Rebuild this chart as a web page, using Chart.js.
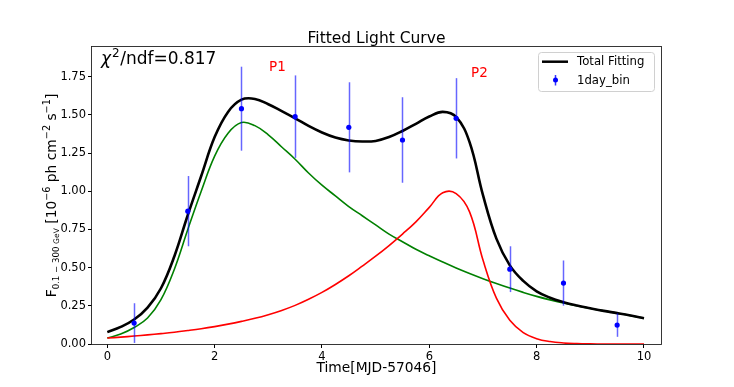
<!DOCTYPE html>
<html>
<head>
<meta charset="utf-8">
<script src="https://cdn.jsdelivr.net/npm/chart.js@4.4.1/dist/chart.umd.min.js"></script>
<style>
  body { margin: 0; background: #fff; }
  canvas { display: block; }
</style>
</head>
<body>
<canvas id="lc" width="734" height="387"></canvas>
<script>
// measured points, 1 day bins
var binX = [0.5, 1.5, 2.5, 3.5, 4.5, 5.5, 6.5, 7.5, 8.5, 9.5];
var binFlux = [0.137, 0.870, 1.541, 1.489, 1.419, 1.336, 1.478, 0.490, 0.399, 0.124];
var binErr = [0.13, 0.23, 0.275, 0.27, 0.295, 0.28, 0.263, 0.15, 0.148, 0.077];

// fitted curves every 0.25 day
var fitX = [0, 0.25, 0.5, 0.75, 1, 1.25, 1.5, 1.75, 2, 2.25, 2.5, 2.75, 3, 3.25, 3.5, 3.75, 4, 4.25, 4.5, 4.75,
            5, 5.25, 5.5, 5.75, 6, 6.25, 6.5, 6.75, 7, 7.25, 7.5, 7.75, 8, 8.25, 8.5, 8.75, 9, 9.25, 9.5, 9.75, 10];
var totalFit = [0.078, 0.112, 0.16, 0.238, 0.365, 0.575, 0.845, 1.10, 1.355, 1.52, 1.60, 1.605, 1.57, 1.525, 1.478, 1.428, 1.385, 1.352, 1.333, 1.326,
                1.33, 1.355, 1.395, 1.442, 1.49, 1.52, 1.487, 1.322, 0.975, 0.69, 0.515, 0.413, 0.345, 0.303, 0.274, 0.252, 0.234, 0.217, 0.202, 0.186, 0.168];
var p1Fit = [0.039, 0.065, 0.108, 0.17, 0.29, 0.49, 0.75, 1.00, 1.23, 1.38, 1.45, 1.43, 1.37, 1.29, 1.21, 1.12, 1.04, 0.97, 0.90, 0.84,
             0.78, 0.72, 0.67, 0.62, 0.578, 0.537, 0.498, 0.462, 0.428, 0.396, 0.366, 0.338, 0.312, 0.289, 0.268, 0.25, 0.233, 0.217, 0.202, 0.186, 0.168];
var p2Fit = [0.039, 0.045, 0.052, 0.06, 0.068, 0.077, 0.088, 0.10, 0.114, 0.13, 0.148, 0.168, 0.192, 0.22, 0.253, 0.293, 0.338, 0.39, 0.447, 0.51,
             0.575, 0.645, 0.72, 0.80, 0.895, 0.99, 0.985, 0.865, 0.55, 0.30, 0.155, 0.075, 0.035, 0.016, 0.007, 0.003, 0.001, 0, 0, 0, 0];

var xTicks = [0, 2, 4, 6, 8, 10];
var yTicks = [0, 0.25, 0.5, 0.75, 1.0, 1.25, 1.5, 1.75];

var FONT = '"DejaVu Sans", sans-serif';

function pts(xs, ys) {
    return xs.map(function (x, i) { return {x: x, y: ys[i]}; });
}

// draws a run of text pieces with different sizes / baseline shifts
function richText(ctx, parts, x, y) {
    var total = 0;
    parts.forEach(function (p) {
        ctx.font = p.style + p.size + 'px ' + FONT;
        p.w = ctx.measureText(p.t).width;
        total += p.w;
    });
    var cx = x - total / 2;
    parts.forEach(function (p) {
        ctx.font = p.style + p.size + 'px ' + FONT;
        ctx.fillText(p.t, cx, y + p.dy);
        cx += p.w;
    });
}

function part(t, size, dy, style) {
    return {t: t, size: size, dy: dy || 0, style: style || ''};
}

var errorBars = {
    id: 'errorBars',
    beforeDatasetDraw: function (chart, args) {
        if (args.index !== 0) return;
        var ctx = chart.ctx, xs = chart.scales.x, ys = chart.scales.y, a = chart.chartArea;
        ctx.save();
        ctx.beginPath();
        ctx.rect(a.left, a.top, a.right - a.left, a.bottom - a.top);
        ctx.clip();
        ctx.strokeStyle = 'rgba(0,0,255,0.6)';
        ctx.lineWidth = 1.5;
        for (var i = 0; i < binX.length; i++) {
            var px = Math.round(xs.getPixelForValue(binX[i])) + 0.5;
            ctx.beginPath();
            ctx.moveTo(px, ys.getPixelForValue(binFlux[i] - binErr[i]));
            ctx.lineTo(px, ys.getPixelForValue(binFlux[i] + binErr[i]));
            ctx.stroke();
        }
        ctx.restore();
    }
};

var decorations = {
    id: 'decorations',
    afterDraw: function (chart) {
        var ctx = chart.ctx, a = chart.chartArea;
        ctx.save();
        // frame
        ctx.strokeStyle = '#222';
        ctx.lineWidth = 0.9;
        ctx.strokeRect(a.left - 0.5, a.top - 0.5, a.right - a.left + 1, a.bottom - a.top + 1);

        ctx.fillStyle = '#000';
        ctx.textBaseline = 'alphabetic';
        // title
        ctx.textAlign = 'center';
        ctx.font = '15.5px ' + FONT;
        ctx.fillText('Fitted Light Curve', (a.left + a.right) / 2, 43);
        // x label
        ctx.font = '13.8px ' + FONT;
        ctx.fillText('Time[MJD-57046]', (a.left + a.right) / 2, 372);

        // y label, rotated
        ctx.save();
        ctx.translate(55.5, (a.top + a.bottom) / 2);
        ctx.rotate(-Math.PI / 2);
        ctx.textAlign = 'left';
        richText(ctx, [
            part('F', 13.8),
            part('0.1 \u2212 300 ', 8.6, 3.5),
            part('GeV', 7.6, 3.5),
            part(' [10', 13.8),
            part('\u22126', 9.7, -5.5),
            part(' ph cm', 13.8),
            part('\u22122', 9.7, -5.5),
            part(' s', 13.8),
            part('\u22121', 9.7, -5.5),
            part(']', 13.8)
        ], 0, 0);
        ctx.restore();

        // chi2 text
        ctx.textAlign = 'left';
        ctx.font = 'italic 17px ' + FONT;
        ctx.fillText('\u03c7', 101, 64.3);
        var w = ctx.measureText('\u03c7').width;
        ctx.font = '12px ' + FONT;
        ctx.fillText('2', 101 + w + 1, 57);
        var w2 = ctx.measureText('2').width;
        ctx.font = '17px ' + FONT;
        ctx.fillText('/ndf=0.817', 101 + w + w2 + 1.5, 64.3);

        // peak labels
        ctx.fillStyle = '#ff0000';
        ctx.font = '13.5px ' + FONT;
        ctx.fillText('P1', 269, 70.7);
        ctx.fillText('P2', 471, 77.3);

        // legend
        var lx = 538, ly = 52, lw = 116, lh = 39;
        ctx.fillStyle = 'rgba(255,255,255,0.8)';
        ctx.strokeStyle = '#d0d0d0';
        ctx.lineWidth = 1;
        ctx.beginPath();
        ctx.roundRect(lx + 0.5, ly + 0.5, lw, lh, 3);
        ctx.fill();
        ctx.stroke();

        ctx.strokeStyle = '#000';
        ctx.lineWidth = 2.5;
        ctx.beginPath();
        ctx.moveTo(542, 61.7);
        ctx.lineTo(568, 61.7);
        ctx.stroke();

        ctx.strokeStyle = 'rgba(0,0,255,0.8)';
        ctx.lineWidth = 1.5;
        ctx.beginPath();
        ctx.moveTo(555.5, 75);
        ctx.lineTo(555.5, 85.5);
        ctx.stroke();
        ctx.fillStyle = '#0000ff';
        ctx.beginPath();
        ctx.arc(555.5, 80, 2.5, 0, Math.PI * 2);
        ctx.fill();

        ctx.fillStyle = '#000';
        ctx.font = '11.7px ' + FONT;
        ctx.textBaseline = 'middle';
        ctx.fillText('Total Fitting', 577, 62);
        ctx.fillText('1day_bin', 577, 80.5);
        ctx.restore();
    }
};

var chrt = document.getElementById('lc').getContext('2d');

var lightCurve = new Chart(chrt, {
    type: 'line',
    data: {
        datasets: [{
            label: '1day_bin',
            data: pts(binX, binFlux),
            showLine: false,
            pointRadius: 2.6,
            pointBackgroundColor: '#0000ff',
            pointBorderWidth: 0,
            borderColor: '#0000ff'
        }, {
            label: 'Total Fitting',
            data: pts(fitX, totalFit),
            borderColor: '#000000',
            borderWidth: 2.6,
            pointRadius: 0,
            tension: 0.4
        }, {
            label: 'P2',
            data: pts(fitX, p2Fit),
            borderColor: '#ff0000',
            borderWidth: 1.6,
            pointRadius: 0,
            tension: 0.4
        }, {
            label: 'P1',
            data: pts(fitX, p1Fit),
            borderColor: '#008000',
            borderWidth: 1.6,
            pointRadius: 0,
            tension: 0.4
        }]
    },
    options: {
        responsive: false,
        animation: false,
        devicePixelRatio: 1,
        layout: {padding: {top: 47, right: 73, bottom: 0, left: 0}},
        plugins: {
            legend: {display: false},
            tooltip: {enabled: false}
        },
        scales: {
            x: {
                type: 'linear',
                min: -0.285,
                max: 10.317,
                afterFit: function (s) { s.height = 43; },
                afterBuildTicks: function (s) { s.ticks = xTicks.map(function (v) { return {value: v}; }); },
                border: {display: false},
                grid: {drawOnChartArea: false, tickLength: 4, color: '#000', lineWidth: 1},
                ticks: {
                    color: '#000',
                    padding: 2,
                    maxRotation: 0,
                    font: {family: FONT, size: 11.5},
                    callback: function (v) { return String(v); }
                }
            },
            y: {
                type: 'linear',
                min: 0,
                max: 1.945,
                afterFit: function (s) { s.width = 92; },
                afterBuildTicks: function (s) { s.ticks = yTicks.map(function (v) { return {value: v}; }); },
                border: {display: false},
                grid: {drawOnChartArea: false, tickLength: 4, color: '#000', lineWidth: 1},
                ticks: {
                    color: '#000',
                    padding: 2,
                    font: {family: FONT, size: 11.5},
                    callback: function (v) { return v.toFixed(2); }
                }
            }
        }
    },
    plugins: [errorBars, decorations]
});
</script>
</body>
</html>
